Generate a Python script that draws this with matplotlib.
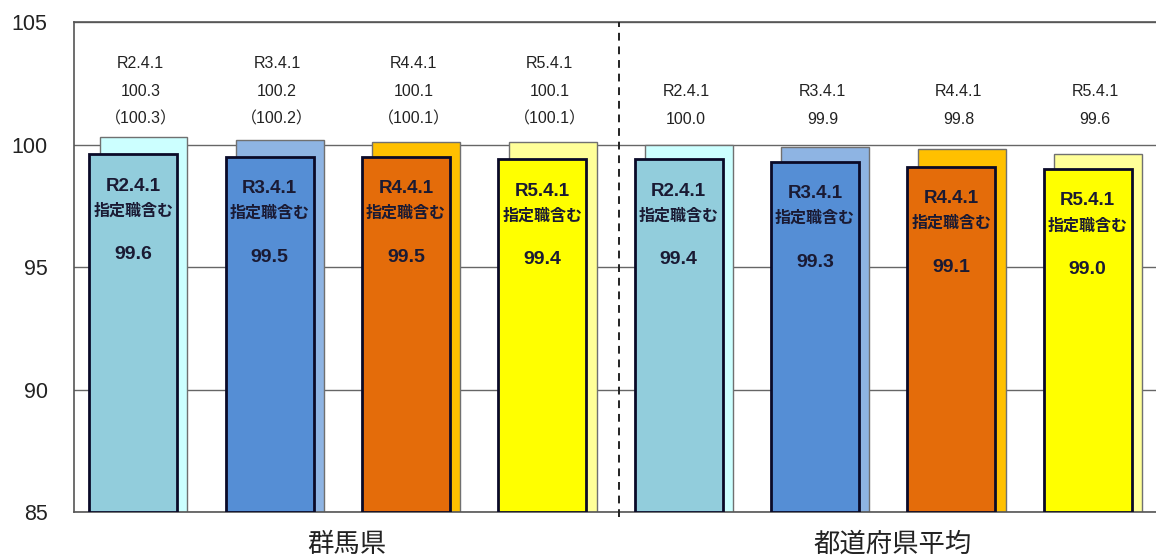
import matplotlib
matplotlib.use("Agg")
import matplotlib.pyplot as plt

plt.rcParams['font.family'] = ['Liberation Sans', 'Noto Sans CJK JP', 'DejaVu Sans']

# ---- data ----
groups = ["群馬県", "都道府県平均"]
dates = ["R2.4.1", "R3.4.1", "R4.4.1", "R5.4.1"]
gunma_excl = [100.3, 100.2, 100.1, 100.1]       # back bars (excluding designated posts)
gunma_incl = [99.6, 99.5, 99.5, 99.4]           # front bars (including designated posts)
avg_excl = [100.0, 99.9, 99.8, 99.6]
avg_incl = [99.4, 99.3, 99.1, 99.0]
incl_note = "指定職含む"
yticks = [85, 90, 95, 100, 105]

front_colors = ["#92CDDC", "#558ED5", "#E46C0A", "#FFFF00"]
back_colors = ["#CCFFFF", "#8EB4E3", "#FFC000", "#FFFF99"]

fig = plt.figure(figsize=(11.56, 5.6), dpi=100)
ax = fig.add_axes([0.064, 0.0857, 0.9436, 0.875])

W = 0.645
back_off = 0.01
front_off = -0.065
txt_col = "#1a1a33"

back_vals = gunma_excl + avg_excl
front_vals = gunma_incl + avg_incl
for i in range(8):
    c = i % 4
    ax.bar(i + back_off, back_vals[i] - 85, bottom=85, width=W, color=back_colors[c],
           edgecolor="#707070", linewidth=1.0, zorder=2)
    ax.bar(i + front_off, front_vals[i] - 85, bottom=85, width=W, color=front_colors[c],
           edgecolor="#0a0a28", linewidth=2.0, zorder=3)
    # labels above
    if i < 4:
        lab = f"{dates[c]}\n{back_vals[i]:.1f}\n（{back_vals[i]:.1f}）"
    else:
        lab = f"{dates[c]}\n{back_vals[i]:.1f}"
    ax.text(i - 0.01, 100.72, lab, ha="center", va="bottom", fontsize=11.5,
            color="#222222", linespacing=2.05, zorder=4)
    # labels inside front bar
    top = front_vals[i]
    xc = i + front_off
    ax.text(xc, top - 1.3, dates[c], ha="center", va="center", fontsize=13.5,
            fontweight="bold", color=txt_col, zorder=4)
    ax.text(xc, top - 2.3, incl_note, ha="center", va="center", fontsize=11.5,
            fontweight="bold", color=txt_col, family=['Noto Sans CJK JP'], zorder=4)
    ax.text(xc, top - 4.1, f"{top:.1f}", ha="center", va="center", fontsize=14,
            fontweight="bold", color=txt_col, zorder=4)

ax.set_xlim(-0.5, 7.5)
ax.set_ylim(85, 105)
ax.set_yticks(yticks)
ax.set_yticklabels([str(v) for v in yticks], fontsize=15.5, color="#222222")
ax.tick_params(axis="y", length=0, pad=19)
ax.set_xticks([])
ax.yaxis.grid(True, color="#666666", linewidth=1.0, zorder=0)
ax.set_axisbelow(True)
for s in ["left", "top", "bottom"]:
    ax.spines[s].set_color("#555555")
    ax.spines[s].set_linewidth(1.2)
ax.spines["right"].set_visible(False)

ax.axvline(3.5, ymin=-0.01, ymax=1, color="#222222", linestyle=(0, (4, 3)),
           linewidth=1.4, clip_on=False, zorder=5)

for gi, g in enumerate(groups):
    ax.text(1.5 + 4 * gi, 83.68, g, ha="center", va="center", fontsize=19,
            color="#222222", family=['Noto Sans CJK JP'])

fig.savefig("out.png", dpi=100)
